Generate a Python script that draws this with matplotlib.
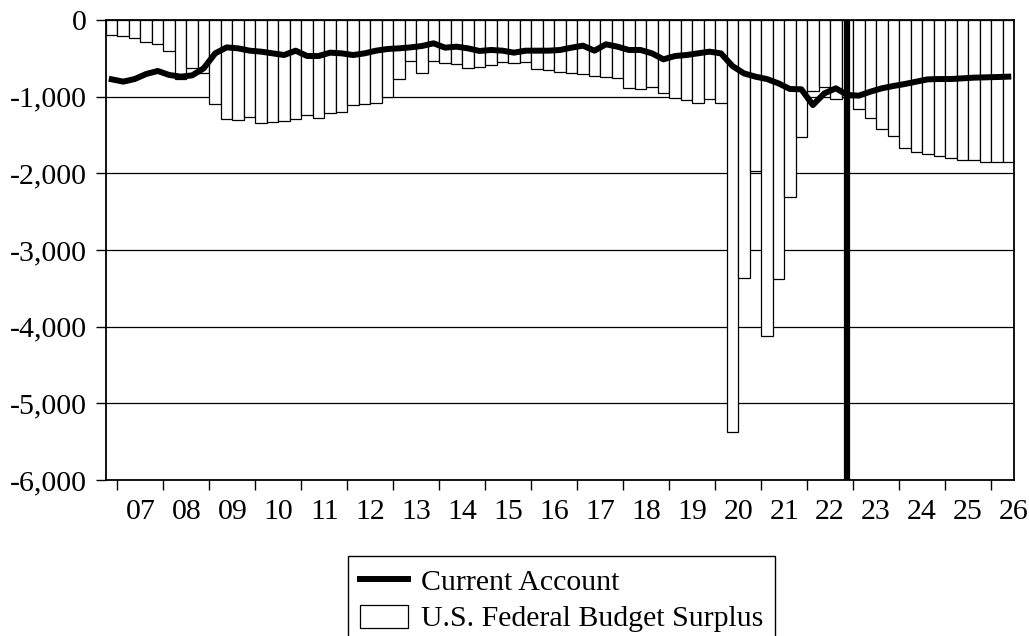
import numpy as np
import pandas as pd
import matplotlib
matplotlib.use("Agg")
import matplotlib.pyplot as plt
from matplotlib.ticker import FixedLocator, FuncFormatter

# quarterly data, 2006Q4 .. 2026Q2 (billions, annualized)
quarters = pd.period_range("2006Q4", "2026Q2", freq="Q")

budget_surplus = [
    -200, -210, -230, -283, -317, -404, -774, -622, -696, -1100,
    -1296, -1304, -1261, -1348, -1326, -1313, -1291, -1239, -1274, -1217,
    -1196, -1109, -1096, -1078, -1000, -774, -535, -696, -530, -557,
    -578, -630, -617, -587, -543, -565, -543, -639, -652, -678,
    -687, -704, -726, -739, -761, -883, -904, -878, -957, -1022,
    -1043, -1087, -1035, -1087, -5380, -3370, -1975, -4117, -3378, -2309,
    -1522, -926, -878, -1035, -1000, -1165, -1283, -1426, -1513, -1674,
    -1726, -1748, -1770, -1804, -1826, -1830, -1848, -1848, -1848,
]

current_account = [
    -774, -804, -770, -704, -665, -717, -739, -722, -630, -435,
    -357, -370, -400, -413, -435, -457, -400, -470, -470, -426,
    -435, -457, -435, -400, -378, -370, -357, -339, -304, -361,
    -348, -370, -404, -391, -400, -426, -400, -400, -400, -391,
    -361, -335, -400, -317, -348, -391, -391, -435, -513, -470,
    -457, -435, -413, -435, -600, -696, -739, -770, -826, -900,
    -904, -1109, -957, -891, -978, -987, -935, -891, -861, -835,
    -804, -774, -770, -770, -761, -752, -748, -744, -739,
]

forecast_start = pd.Period("2022Q4", freq="Q")
year_labels = ["07", "08", "09", "10", "11", "12", "13", "14", "15", "16",
               "17", "18", "19", "20", "21", "22", "23", "24", "25", "26"]
y_ticks = [0, -1000, -2000, -3000, -4000, -5000, -6000]

plt.rcParams["font.family"] = ["Liberation Serif", "DejaVu Serif"]
fs = 21.5

fig = plt.figure(figsize=(10.29, 6.36), dpi=100)
ax = fig.add_axes([106 / 1029, 1 - 480 / 636, (1014 - 106) / 1029, 460 / 636])

x = np.arange(len(quarters))
ax.bar(x, budget_surplus, width=1.0, color="white", edgecolor="black",
       linewidth=0.9, zorder=2, label="U.S. Federal Budget Surplus")
ax.plot(x, current_account, color="black", lw=4.3, zorder=4,
        label="Current Account")
ax.axvline(list(quarters).index(forecast_start), color="black", lw=4.5, zorder=5)

ax.set_xlim(-0.5, len(quarters) - 0.5)
ax.set_ylim(-6000, 0)

# y axis
ax.yaxis.set_major_locator(FixedLocator(y_ticks))
ax.yaxis.set_major_formatter(FuncFormatter(lambda v, p: "0" if v == 0 else f"{v:,.0f}"))
ax.grid(axis="y", color="black", lw=0.9)
ax.set_axisbelow(True)

# x axis: ticks at year boundaries, labels in the middle of each year
first_q1 = list(quarters).index(pd.Period("2007Q1", freq="Q"))
bounds = [first_q1 - 0.5 + 4 * k for k in range(len(year_labels))]
mids = [b + 2 for b in bounds]
ax.set_xticks(bounds)
ax.set_xticklabels([])
ax.set_xticks(mids, minor=True)
ax.set_xticklabels(year_labels, minor=True)

ax.tick_params(axis="x", which="major", direction="out", length=7, width=1.0)
ax.tick_params(axis="x", which="minor", length=0, pad=14, labelsize=fs)
ax.tick_params(axis="y", direction="out", length=7, width=1.0, pad=7, labelsize=fs)

for s in ax.spines.values():
    s.set_linewidth(1.3)
    s.set_zorder(6)

handles, labels = ax.get_legend_handles_labels()
order = [labels.index("Current Account"), labels.index("U.S. Federal Budget Surplus")]
leg = ax.legend([handles[i] for i in order], [labels[i] for i in order],
                loc="upper left", bbox_to_anchor=(348 / 1029, 1 - 556 / 636),
                bbox_transform=fig.transFigure, borderaxespad=0,
                fontsize=fs, frameon=True, fancybox=False, framealpha=1,
                edgecolor="black", handlelength=1.6, handleheight=0.8,
                handletextpad=0.45, borderpad=0.4, labelspacing=0.3)
leg.get_frame().set_linewidth(1.0)

fig.savefig("out.png", dpi=100)
